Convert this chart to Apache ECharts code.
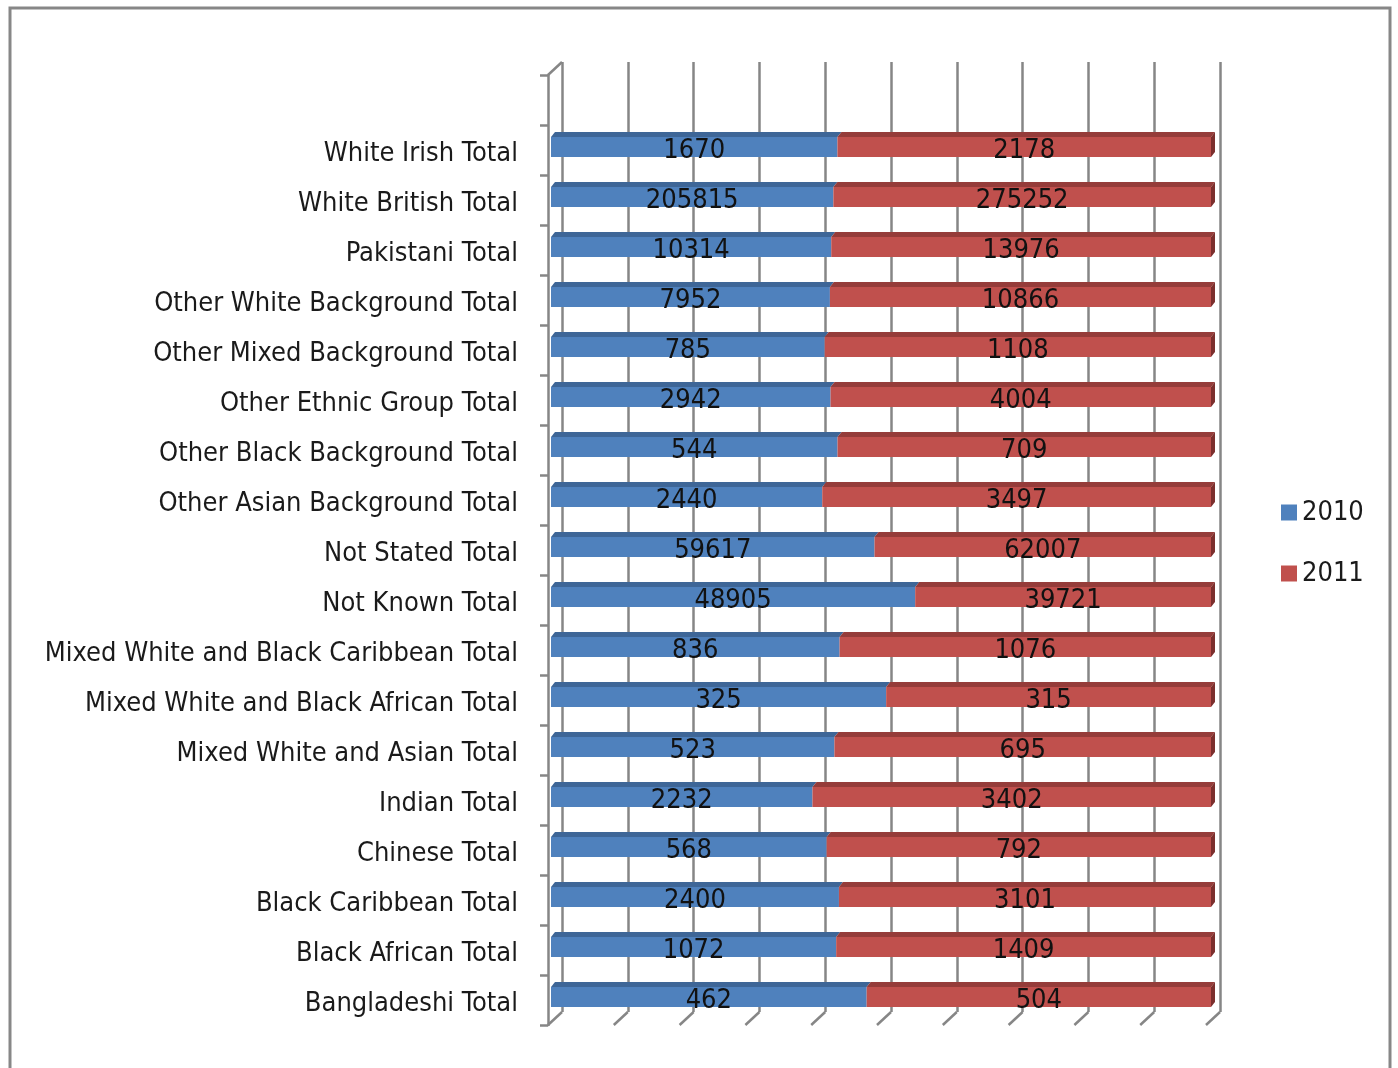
<!DOCTYPE html>
<html>
<head>
<meta charset="utf-8">
<script src="https://cdn.jsdelivr.net/npm/echarts@6/dist/echarts.min.js"></script>
<style>
html,body{margin:0;padding:0;background:#fff;}
#chart{width:1398px;height:1068px;}
</style>
</head>
<body>
<div id="chart"></div>
<script>
// Categories, top to bottom as shown
const categories = [
  'White Irish Total','White British Total','Pakistani Total','Other White Background Total',
  'Other Mixed Background Total','Other Ethnic Group Total','Other Black Background Total',
  'Other Asian Background Total','Not Stated Total','Not Known Total',
  'Mixed White and Black Caribbean Total','Mixed White and Black African Total',
  'Mixed White and Asian Total','Indian Total','Chinese Total','Black Caribbean Total',
  'Black African Total','Bangladeshi Total'
];
const values2010 = [1670,205815,10314,7952,785,2942,544,2440,59617,48905,836,325,523,2232,568,2400,1072,462];
const values2011 = [2178,275252,13976,10866,1108,4004,709,3497,62007,39721,1076,315,695,3402,792,3101,1409,504];
const seriesNames = ['2010','2011'];
const gridTicks = [0,10,20,30,40,50,60,70,80,90,100];

const pct2010 = values2010.map((v,i)=> v/(v+values2011[i])*100);
const pct2011 = values2011.map((v,i)=> v/(v+values2010[i])*100);

const FONT = '"Liberation Sans Narrow","DejaVu Sans Condensed","Roboto Condensed","Open Sans",sans-serif';
const FS = 27;
const GRIDCOL = '#868686';
const BLUE = '#4F81BD', RED = '#C0504D';

const chart = echarts.init(document.getElementById('chart'));

const option = {
  animation: false,
  backgroundColor: '#fff',
  graphic: [{
    type: 'rect', z: 0,
    shape: {x: 10, y: 8, width: 1380, height: 1100},
    style: {fill: 'none', stroke: '#878787', lineWidth: 3}
  }],
  legend: {
    data: seriesNames,
    orient: 'vertical',
    left: 1276, top: 494,
    itemWidth: 16, itemHeight: 16, itemGap: 34,
    icon: 'rect',
    textStyle: {fontFamily: FONT, fontSize: FS, color: '#1a1a1a'}
  },
  grid: [
    {left: 551, right: 187, top: 122, bottom: 46, outerBoundsMode: 'none', containLabel: false},
    {left: 562, right: 178, top: 62, bottom: 56, outerBoundsMode: 'none', containLabel: false},
    {left: 548, right: 178, top: 75, bottom: 43, outerBoundsMode: 'none', containLabel: false}
  ],
  xAxis: [
    {gridIndex: 0, type: 'value', min: 0, max: 100, show: false},
    {gridIndex: 1, type: 'value', min: 0, max: 100, interval: 10,
      axisLine: {show: false}, axisTick: {show: false}, axisLabel: {show: false},
      splitLine: {show: true, lineStyle: {color: GRIDCOL, width: 2.5}}},
    {gridIndex: 2, type: 'value', min: 0, max: 100, show: false}
  ],
  yAxis: [
    {gridIndex: 0, type: 'category', data: categories, inverse: true,
      axisLine: {show: false}, axisTick: {show: false},
      axisLabel: {margin: 33, fontFamily: FONT, fontSize: FS, color: '#1a1a1a',
        formatter: v => '{c|' + v + '}',
        rich: {c: {fontFamily: FONT, fontSize: FS, color: '#1a1a1a', padding: [13,0,0,0]}}}},
    {gridIndex: 1, type: 'value', min: 0, max: 1, show: false},
    {gridIndex: 2, type: 'value', min: 0, max: 19, interval: 1,
      axisLine: {show: true, lineStyle: {color: GRIDCOL, width: 2.5}},
      axisTick: {show: true, length: 8, lineStyle: {color: GRIDCOL, width: 2.5}},
      axisLabel: {show: false}, splitLine: {show: false}}
  ],
  series: [
    {
      type: 'custom', name: 'floor', xAxisIndex: 1, yAxisIndex: 1, silent: true, z: 1,
      data: gridTicks.map(t => [t]),
      encode: {x: 0},
      renderItem: function(params, api){
        const x = api.value(0);
        const b = api.coord([x, 0]);
        const children = [{
          type: 'line',
          shape: {x1: b[0], y1: b[1], x2: b[0]-14, y2: b[1]+13},
          style: {stroke: GRIDCOL, lineWidth: 2.5}
        }];
        if (x === 0) {
          const t = api.coord([0, 1]);
          children.push({type: 'line',
            shape: {x1: t[0], y1: t[1], x2: t[0]-14, y2: t[1]+13},
            style: {stroke: GRIDCOL, lineWidth: 2.5}});
        }
        return {type: 'group', children};
      }
    },
    {
      name: '2010', type: 'bar', stack: 'a', xAxisIndex: 0, yAxisIndex: 0,
      barWidth: 20, data: pct2010, z: 3,
      itemStyle: {color: BLUE},
      label: {show: true, position: 'inside', fontFamily: FONT, fontSize: FS, color: '#111',
        offset: [0, 4], formatter: p => values2010[p.dataIndex]}
    },
    {
      name: '2011', type: 'bar', stack: 'a', xAxisIndex: 0, yAxisIndex: 0,
      barWidth: 20, data: pct2011, z: 3,
      itemStyle: {color: RED},
      label: {show: true, position: 'inside', fontFamily: FONT, fontSize: FS, color: '#111',
        offset: [0, 4], formatter: p => values2011[p.dataIndex]}
    },
    {
      type: 'custom', name: 'tops', xAxisIndex: 0, yAxisIndex: 0, silent: true, z: 4,
      data: pct2010.map((p, i) => [p, i]),
      encode: {x: 0, y: 1},
      renderItem: function(params, api){
        const p = api.value(0), i = api.value(1);
        const c0 = api.coord([0, i]), cm = api.coord([p, i]), c1 = api.coord([100, i]);
        const y0 = c0[1] - 10, dx = 4, dy = -5, h = 20;
        return {type: 'group', children: [
          {type: 'polygon', shape: {points: [[c0[0],y0],[cm[0],y0],[cm[0]+dx,y0+dy],[c0[0]+dx,y0+dy]]},
            style: {fill: '#3e6697'}},
          {type: 'polygon', shape: {points: [[cm[0],y0],[c1[0],y0],[c1[0]+dx,y0+dy],[cm[0]+dx,y0+dy]]},
            style: {fill: '#953c3a'}},
          {type: 'polygon', shape: {points: [[c1[0],y0],[c1[0]+dx,y0+dy],[c1[0]+dx,y0+dy+h],[c1[0],y0+h]]},
            style: {fill: '#7c2f2d'}}
        ]};
      }
    }
  ]
};
chart.setOption(option);
</script>
</body>
</html>
